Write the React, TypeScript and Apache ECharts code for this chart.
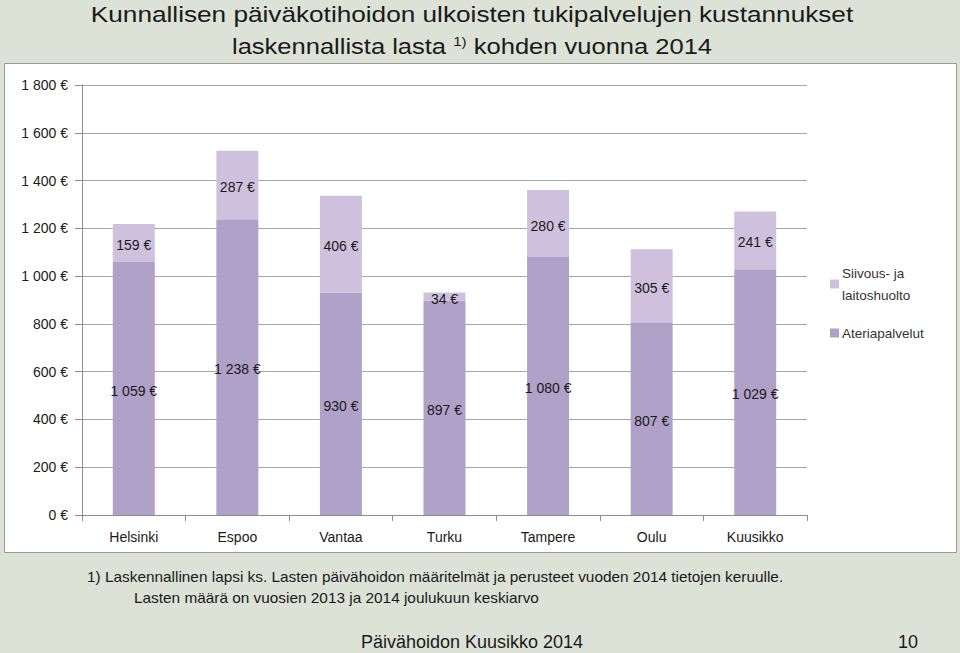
import React, { useEffect, useRef } from "react";
import * as echarts from "echarts";

const categories = ["Helsinki", "Espoo", "Vantaa", "Turku", "Tampere", "Oulu", "Kuusikko"];
const ateriapalvelut = [1059, 1238, 930, 897, 1080, 807, 1029];
const siivous = [159, 287, 406, 34, 280, 305, 241];
const seriesNames = ["Ateriapalvelut", "Siivous- ja\nlaitoshuolto"];

const fmt = (v: number) => String(v).replace(/\B(?=(\d{3})+(?!\d))/g, " ") + " €";

export default function App() {
  const ref = useRef<HTMLDivElement>(null);
  useEffect(() => {
    const chart = echarts.init(ref.current!, null, { renderer: "svg" });
    const font = "Liberation Sans, Arial, sans-serif";
    chart.setOption({
      animation: false,
      backgroundColor: "#dde2d6",
      textStyle: { fontFamily: font },
      graphic: [
        {
          type: "rect",
          z: -10,
          shape: { x: 4.5, y: 63.5, width: 952, height: 489 },
          style: { fill: "#ffffff", stroke: "#9a9a9a", lineWidth: 1 },
        },
        {
          type: "text",
          x: 472,
          y: 14,
          scaleX: 1.19,
          style: {
            text: "Kunnallisen päiväkotihoidon ulkoisten tukipalvelujen kustannukset",
            fontSize: 22,
            fontFamily: font,
            fill: "#1a1a1a",
            align: "center",
            verticalAlign: "middle",
          },
        },
        {
          type: "text",
          x: 472,
          y: 46,
          scaleX: 1.16,
          style: {
            text: "{a|laskennallista lasta }{s|1)}{a| kohden vuonna 2014}",
            align: "center",
            verticalAlign: "middle",
            rich: {
              a: { fontSize: 22, fontFamily: font, fill: "#1a1a1a" },
              s: { fontSize: 13, fontFamily: font, fill: "#1a1a1a", verticalAlign: "top", padding: [0, 0, 10, 0] },
            },
          },
        },
        {
          type: "text",
          x: 87,
          y: 577,
          scaleX: 1.06,
          style: {
            text: "1) Laskennallinen lapsi ks. Lasten päivähoidon määritelmät ja perusteet vuoden 2014 tietojen keruulle.",
            fontSize: 14.5,
            fontFamily: font,
            fill: "#1a1a1a",
            verticalAlign: "middle",
          },
        },
        {
          type: "text",
          x: 134,
          y: 598,
          scaleX: 1.06,
          style: {
            text: "Lasten määrä on vuosien 2013 ja 2014 joulukuun keskiarvo",
            fontSize: 14.5,
            fontFamily: font,
            fill: "#1a1a1a",
            verticalAlign: "middle",
          },
        },
        {
          type: "text",
          x: 472,
          y: 642,
          style: {
            text: "Päivähoidon Kuusikko 2014",
            fontSize: 18,
            fontFamily: font,
            fill: "#1a1a1a",
            align: "center",
            verticalAlign: "middle",
          },
        },
        {
          type: "text",
          x: 908,
          y: 642,
          style: {
            text: "10",
            fontSize: 18,
            fontFamily: font,
            fill: "#1a1a1a",
            align: "center",
            verticalAlign: "middle",
          },
        },
      ],
      legend: {
        orient: "vertical",
        left: 825,
        top: 257,
        itemWidth: 9,
        itemHeight: 9,
        itemGap: 16,
        icon: "rect",
        data: [seriesNames[1], seriesNames[0]],
        textStyle: { fontSize: 13.5, color: "#333", fontFamily: font, lineHeight: 22, padding: [0, 0, 0, -2] },
      },
      grid: { left: 82, right: 153, top: 85, bottom: 138 },
      xAxis: {
        type: "category",
        data: categories,
        axisLine: { lineStyle: { color: "#8c8c8c" } },
        axisTick: { show: true, length: 6, lineStyle: { color: "#8c8c8c" } },
        axisLabel: { fontSize: 14, color: "#1a1a1a", margin: 15, fontFamily: font },
      },
      yAxis: {
        type: "value",
        min: 0,
        max: 1800,
        interval: 200,
        axisLine: { show: true, lineStyle: { color: "#8c8c8c" } },
        axisTick: { show: true, length: 7, lineStyle: { color: "#8c8c8c" } },
        splitLine: { lineStyle: { color: "#a6a6a6" } },
        axisLabel: { fontSize: 14, color: "#1a1a1a", margin: 14, formatter: (v: number) => fmt(v), fontFamily: font },
      },
      series: [
        {
          name: seriesNames[0],
          type: "bar",
          stack: "s",
          barWidth: 42,
          data: ateriapalvelut,
          itemStyle: { color: "#b0a1c9" },
          label: { show: true, position: "inside", offset: [0, 2], fontSize: 14, color: "#1a1a1a", formatter: (p: any) => fmt(p.value) },
        },
        {
          name: seriesNames[1],
          type: "bar",
          stack: "s",
          barWidth: 42,
          data: siivous,
          itemStyle: { color: "#cfc1dd" },
          label: { show: true, position: "inside", offset: [0, 2], fontSize: 14, color: "#1a1a1a", formatter: (p: any) => fmt(p.value) },
        },
      ],
    });
    return () => chart.dispose();
  }, []);
  return <div ref={ref} style={{ width: 960, height: 653, position: "absolute", left: 0, top: 0 }} />;
}
